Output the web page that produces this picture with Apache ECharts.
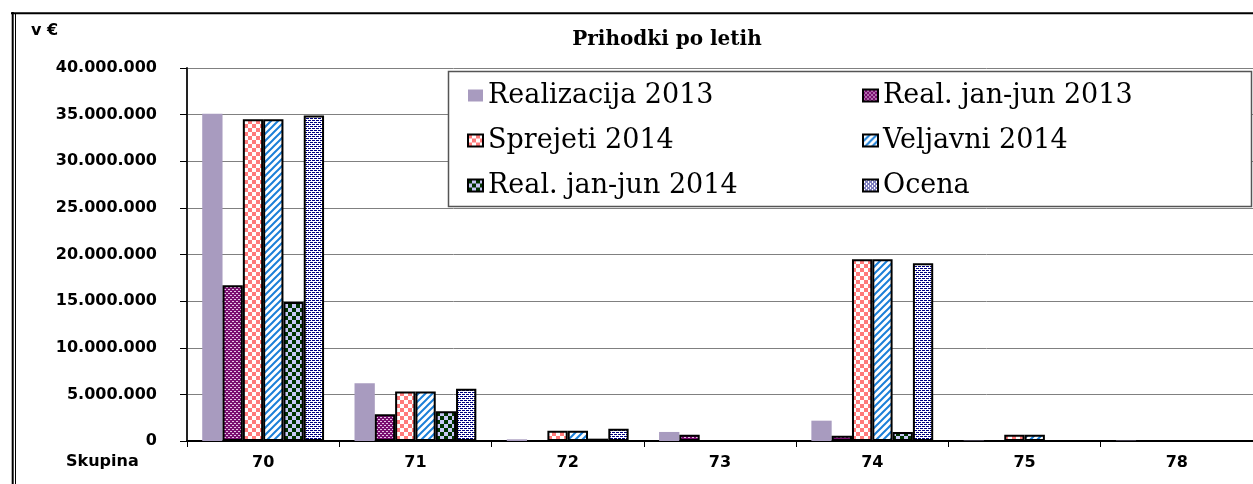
<!DOCTYPE html>
<html>
<head>
<meta charset="utf-8">
<script src="https://cdn.jsdelivr.net/npm/echarts@6/dist/echarts.min.js"></script>
<style>
  html, body { margin: 0; padding: 0; background: #fff; }
  #chart { width: 1253px; height: 484px; }
</style>
</head>
<body>
<div id="chart"></div>
<script>
// ---- data ----
const categories = ['70', '71', '72', '73', '74', '75', '78'];
const seriesNames = ['Realizacija 2013', 'Real. jan-jun 2013', 'Sprejeti 2014', 'Veljavni 2014', 'Real. jan-jun 2014', 'Ocena'];
const realizacija2013 = [35100000, 6200000, 180000, 970000, 2180000, 40000, 40000];
const realJanJun2013 = [16700000, 2860000, 0, 680000, 570000, 0, 0];
const sprejeti2014 = [34500000, 5300000, 1100000, 0, 19500000, 680000, 0];
const veljavni2014 = [34500000, 5300000, 1100000, 0, 19500000, 680000, 0];
const realJanJun2014 = [14900000, 3200000, 250000, 0, 970000, 0, 0];
const ocena = [34900000, 5600000, 1320000, 0, 19050000, 0, 0];
const yTicks = [0, 5000000, 10000000, 15000000, 20000000, 25000000, 30000000, 35000000, 40000000];
const chartTitle = 'Prihodki po letih';
const unitLabel = 'v €';
const categoryLabel = 'Skupina';

// ---- patterns ----
function pattern(w, h, draw) {
  const c = document.createElement('canvas');
  c.width = w; c.height = h;
  const ctx = c.getContext('2d');
  draw(ctx);
  return { image: c, repeat: 'repeat' };
}
function checker(a, b, s) {
  return pattern(2 * s, 2 * s, ctx => {
    ctx.fillStyle = b; ctx.fillRect(0, 0, 2 * s, 2 * s);
    ctx.fillStyle = a; ctx.fillRect(0, 0, s, s); ctx.fillRect(s, s, s, s);
  });
}
const pPurple = pattern(4, 4, ctx => {
  ctx.fillStyle = '#7a0f70'; ctx.fillRect(0, 0, 4, 4);
  ctx.fillStyle = '#e6c6e6'; ctx.fillRect(0, 1, 2, 1); ctx.fillRect(2, 3, 2, 1);
});
const pPink = checker('#ff7b7b', '#ffffff', 4);
const pBlue = pattern(7, 7, ctx => {
  ctx.fillStyle = '#ffffff'; ctx.fillRect(0, 0, 7, 7);
  ctx.strokeStyle = '#1b7fd8'; ctx.lineWidth = 2;
  ctx.beginPath();
  ctx.moveTo(-1, 8); ctx.lineTo(8, -1);
  ctx.moveTo(-4, 4); ctx.lineTo(4, -4);
  ctx.moveTo(3, 11); ctx.lineTo(11, 3);
  ctx.stroke();
});
const pGreen = checker('#003300', '#c8c8f6', 4);
const pNavy = pattern(4, 4, ctx => {
  ctx.fillStyle = '#ffffff'; ctx.fillRect(0, 0, 4, 4);
  ctx.fillStyle = '#000080'; ctx.fillRect(0, 0, 3, 1); ctx.fillRect(2, 2, 3, 1); ctx.fillRect(0, 2, 1, 1);
});

const fmt = v => String(v).replace(/\B(?=(\d{3})+(?!\d))/g, '.');

const seriesData = [realizacija2013, realJanJun2013, sprejeti2014, veljavni2014, realJanJun2014, ocena];
const fills = ['#a89bbf', pPurple, pPink, pBlue, pGreen, pNavy];

const series = seriesNames.map((name, i) => ({
  name: name,
  type: 'bar',
  data: seriesData[i],
  barGap: '0%',
  barCategoryGap: '20%',
  itemStyle: i === 0
    ? { color: fills[i], borderWidth: 0 }
    : { color: fills[i], borderColor: '#000', borderWidth: 2 },
  emphasis: { disabled: true },
  animation: false
}));

const legendText = { fontFamily: 'DejaVu Serif', fontSize: 27, lineHeight: 27, color: '#000' };

const chart = echarts.init(document.getElementById('chart'), null, { renderer: 'canvas' });
chart.setOption({
  animation: false,
  backgroundColor: '#fff',
  grid: { left: 187, top: 68, bottom: 43, right: -15, containLabel: false },
  legend: [
    {
      data: [seriesNames[0], seriesNames[2], seriesNames[4]],
      orient: 'vertical', left: 467, top: 82, icon: 'rect', padding: 0,
      itemWidth: 15, itemHeight: 12, itemGap: 18, textStyle: legendText,
      selectedMode: false, z: 10
    },
    {
      data: [seriesNames[1], seriesNames[3], seriesNames[5]],
      orient: 'vertical', left: 862, top: 82, icon: 'rect', padding: 0,
      itemWidth: 15, itemHeight: 12, itemGap: 18, textStyle: legendText,
      selectedMode: false, z: 10
    }
  ],
  xAxis: {
    type: 'category',
    data: categories,
    axisLine: { lineStyle: { color: '#000', width: 2 } },
    axisTick: { show: true, alignWithLabel: false, length: 6, lineStyle: { color: '#000', width: 1 } },
    axisLabel: { margin: 14, fontFamily: 'DejaVu Sans', fontWeight: 'bold', fontSize: 16, color: '#000' }
  },
  yAxis: {
    type: 'value',
    min: yTicks[0],
    max: yTicks[yTicks.length - 1],
    interval: yTicks[1] - yTicks[0],
    axisLine: { show: true, lineStyle: { color: '#222', width: 2 } },
    axisTick: { show: true, length: 7, lineStyle: { color: '#000', width: 1 } },
    splitLine: { show: true, lineStyle: { color: '#808080', width: 1 } },
    axisLabel: { margin: 30, fontFamily: 'DejaVu Sans', fontWeight: 'bold', fontSize: 16, color: '#000', formatter: fmt }
  },
  graphic: [
    { type: 'rect', z: 5, shape: { x: 448.5, y: 71.5, width: 803, height: 135 },
      style: { fill: '#fff', stroke: '#555', lineWidth: 1.5 } },
    { type: 'text', z: 10, style: { text: chartTitle, x: 667, y: 40, textAlign: 'center', textVerticalAlign: 'middle',
      font: 'bold 20px "DejaVu Serif"', fill: '#000' } },
    { type: 'text', z: 10, style: { text: unitLabel, x: 31, y: 31, textAlign: 'left', textVerticalAlign: 'middle',
      font: 'bold 16px "DejaVu Sans"', fill: '#000' } },
    { type: 'text', z: 10, style: { text: categoryLabel, x: 66, y: 462, textAlign: 'left', textVerticalAlign: 'middle',
      font: 'bold 16px "DejaVu Sans"', fill: '#000' } },
    { type: 'line', z: 10, shape: { x1: 11, y1: 13.3, x2: 1253, y2: 13.3 }, style: { stroke: '#000', lineWidth: 2 } },
    { type: 'line', z: 10, shape: { x1: 12.7, y1: 12, x2: 12.7, y2: 484 }, style: { stroke: '#000', lineWidth: 2 } },
    { type: 'line', z: 10, shape: { x1: 15.5, y1: 14, x2: 15.5, y2: 484 }, style: { stroke: '#000', lineWidth: 1 } }
  ],
  series: series
});
</script>
</body>
</html>
